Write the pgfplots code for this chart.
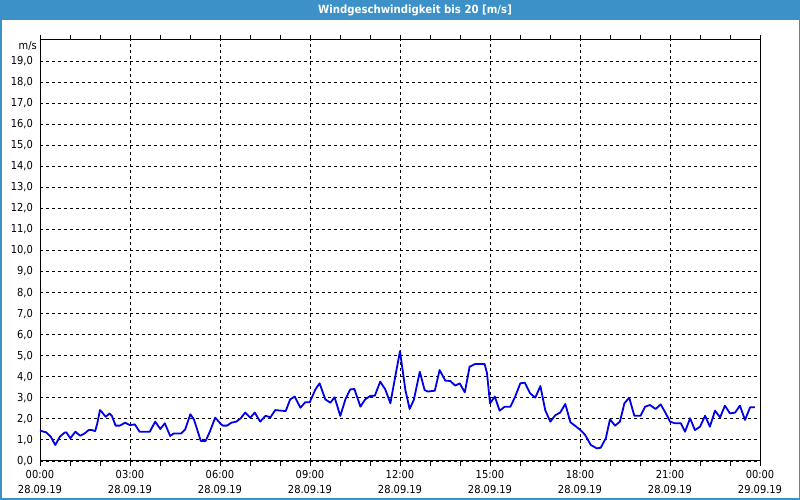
\documentclass[border=0pt]{standalone}
\usepackage{fontspec}
\setmainfont{DejaVu Sans Condensed}
\usepackage{pgfplots}
\pgfplotsset{compat=1.18}
\definecolor{titlebar}{RGB}{60,145,200}
\definecolor{windline}{RGB}{0,0,230}

\pgfplotstableread{
h v
0.00 1.44
0.21 1.36
0.36 1.15
0.51 0.76
0.66 1.15
0.82 1.35
0.88 1.36
1.01 1.08
1.18 1.39
1.34 1.20
1.49 1.31
1.62 1.47
1.73 1.47
1.84 1.42
1.91 1.79
2.00 2.42
2.07 2.31
2.19 2.10
2.32 2.26
2.40 2.13
2.52 1.68
2.66 1.68
2.84 1.82
3.00 1.70
3.16 1.74
3.32 1.39
3.66 1.39
3.84 1.87
4.01 1.52
4.16 1.79
4.34 1.19
4.46 1.31
4.71 1.31
4.84 1.50
5.01 2.22
5.13 1.98
5.36 0.95
5.52 0.95
5.66 1.39
5.84 2.06
6.04 1.74
6.10 1.68
6.23 1.68
6.38 1.82
6.54 1.87
6.69 2.03
6.84 2.30
7.01 2.06
7.16 2.30
7.34 1.87
7.52 2.15
7.68 2.07
7.84 2.42
8.19 2.37
8.34 2.93
8.49 3.06
8.68 2.53
8.84 2.79
8.99 2.79
9.18 3.40
9.32 3.69
9.51 2.93
9.68 2.77
9.82 3.03
10.01 2.14
10.18 2.93
10.34 3.40
10.48 3.42
10.68 2.58
10.84 2.93
11.01 3.09
11.16 3.10
11.34 3.77
11.51 3.40
11.68 2.74
11.84 4.00
12.00 5.22
12.04 4.80
12.18 3.37
12.32 2.47
12.46 2.90
12.66 4.24
12.82 3.37
12.93 3.30
13.16 3.34
13.32 4.32
13.51 3.82
13.68 3.80
13.84 3.58
13.99 3.69
14.16 3.26
14.32 4.48
14.51 4.61
14.82 4.61
14.90 4.17
15.00 2.74
15.16 3.06
15.32 2.39
15.49 2.58
15.68 2.58
15.84 3.06
16.01 3.69
16.16 3.72
16.34 3.21
16.51 3.01
16.68 3.56
16.84 2.42
17.01 1.87
17.18 2.18
17.34 2.30
17.51 2.71
17.68 1.84
17.84 1.67
18.03 1.45
18.17 1.24
18.36 0.76
18.56 0.60
18.69 0.63
18.86 1.08
19.00 1.98
19.17 1.68
19.33 1.87
19.48 2.74
19.64 3.01
19.81 2.15
20.02 2.15
20.17 2.58
20.33 2.66
20.52 2.47
20.69 2.69
20.86 2.26
21.00 1.87
21.17 1.79
21.36 1.79
21.50 1.39
21.67 2.03
21.83 1.47
22.00 1.63
22.17 2.15
22.33 1.63
22.50 2.39
22.67 2.07
22.83 2.63
23.00 2.26
23.17 2.30
23.33 2.63
23.50 1.95
23.67 2.55
23.83 2.55
}\windtable

\begin{document}
\begin{tikzpicture}
\useasboundingbox (0,0) rectangle (800pt,500pt);
\fill[white] (0,0) rectangle (800pt,500pt);
\fill[titlebar] (0,480pt) rectangle (800pt,500pt);
\draw[titlebar, line width=1.5pt] (0.75pt,0.75pt) rectangle (799.25pt,499.25pt);
\node[text=white, font=\bfseries\fontsize{11.3}{13}\selectfont] at (415pt,490pt) {Windgeschwindigkeit bis 20 [m/s]};

\begin{axis}[
    at={(40pt,39pt)}, anchor=south west,
    scale only axis,
    width=720pt, height=421pt,
    xmin=0, xmax=24, ymin=0, ymax=20,
    xtick={0,3,...,24},
    minor xtick={1,2,4,5,7,8,10,11,13,14,16,17,19,20,22,23},
    xticklabels={{00:00\\28.09.19},{03:00\\28.09.19},{06:00\\28.09.19},{09:00\\28.09.19},{12:00\\28.09.19},{15:00\\28.09.19},{18:00\\28.09.19},{21:00\\28.09.19},{00:00\\29.09.19}},
    ytick={0,1,...,19},
    yticklabel={\pgfmathprintnumber[fixed,fixed zerofill,precision=1,use comma]{\tick}},
    /pgf/number format/assume math mode=true,
    tick align=outside,
    major tick length=5pt, minor tick length=5pt,
    ytick style={draw=none},
    tick style={black, line width=0.8pt},
    axis line style={black, line width=1pt},
    xmajorgrids, ymajorgrids,
    major grid style={black, line width=0.9pt, dash pattern=on 3pt off 3pt},
    ticklabel style={font=\fontsize{11}{15}\selectfont, text=black},
    xticklabel style={align=center, yshift=-1pt},
    yticklabel style={inner sep=1pt, xshift=-1pt},
    clip=false,
]
\addplot[windline, line width=1.8pt, line join=round] table[x=h, y=v] {\windtable};
\node[anchor=east, font=\fontsize{11}{13}\selectfont, text=black, inner sep=0pt] at (axis cs:0,19.7) [xshift=-3pt] {m/s};
\end{axis}
\end{tikzpicture}
\end{document}
